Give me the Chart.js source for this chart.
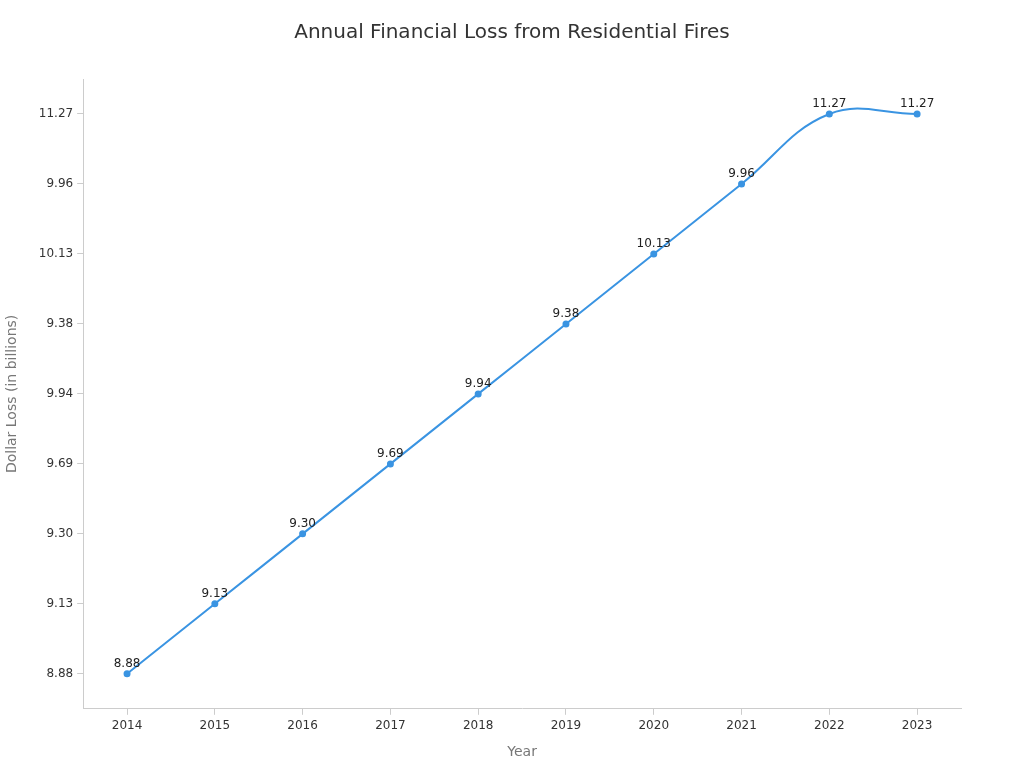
<!DOCTYPE html>
<html>
<head>
<meta charset="utf-8">
<script src="https://cdn.jsdelivr.net/npm/chart.js@4"></script>
<style>
    html, body { margin: 0; padding: 0; background: #fff; }
    #wrap { width: 1024px; height: 768px; }
</style>
</head>
<body>
<div id="wrap"><canvas id="chart"></canvas></div>
<script>
    // data
    var years = ["2014", "2015", "2016", "2017", "2018", "2019", "2020", "2021", "2022", "2023"];
    var loss = ["8.88", "9.13", "9.30", "9.69", "9.94", "9.38", "10.13", "9.96", "11.27", "11.27"];
    // y axis is categorical, labels in the order they appear
    var yLabels = ["8.88", "9.13", "9.30", "9.69", "9.94", "9.38", "10.13", "9.96", "11.27"];
    var chartTitle = "Annual Financial Loss from Residential Fires";

    Chart.defaults.font.family = "'DejaVu Sans', sans-serif";
    Chart.defaults.color = "#333";

    // title centred on the whole canvas
    var pageTitle = {
        id: "pageTitle",
        afterDraw: function (chart) {
            var ctx = chart.ctx;
            ctx.save();
            ctx.font = "20px 'DejaVu Sans', sans-serif";
            ctx.fillStyle = "#333";
            ctx.textAlign = "center";
            ctx.textBaseline = "middle";
            ctx.fillText(chartTitle, chart.width / 2, 33);
            ctx.restore();
        }
    };

    // point labels above each point
    var pointLabels = {
        id: "pointLabels",
        afterDatasetsDraw: function (chart) {
            var ctx = chart.ctx;
            var meta = chart.getDatasetMeta(0);
            ctx.save();
            ctx.font = "12px 'DejaVu Sans', sans-serif";
            ctx.fillStyle = "#222";
            ctx.textAlign = "center";
            ctx.textBaseline = "bottom";
            meta.data.forEach(function (pt, i) {
                ctx.fillText(loss[i], pt.x, pt.y - 4);
            });
            ctx.restore();
        }
    };

    var ctx = document.getElementById("chart").getContext("2d");
    var myChart = new Chart(ctx, {
        type: "line",
        data: {
            labels: years,
            datasets: [
                {
                    label: "Dollar Loss",
                    data: loss,
                    borderColor: "#3a94e2",
                    backgroundColor: "#3a94e2",
                    borderWidth: 2,
                    pointRadius: 2.5,
                    tension: 0.4,
                    fill: false,
                },
            ],
        },
        options: {
            responsive: true,
            maintainAspectRatio: false,
            animation: false,
            layout: { padding: { left: 0, right: 63, top: 79, bottom: 3 } },
            plugins: {
                legend: { display: false },
                tooltip: { enabled: false },
                title: { display: false },
            },
            scales: {
                x: {
                    offset: true,
                    grid: { drawOnChartArea: false, tickLength: 6, color: "#ccc" },
                    border: { color: "#ccc" },
                    ticks: { font: { size: 12 }, color: "#333", padding: 4 },
                    title: {
                        display: true,
                        text: "Year",
                        color: "#777",
                        font: { size: 14 },
                        padding: { top: 7 },
                    },
                },
                y: {
                    type: "category",
                    labels: yLabels,
                    reverse: true,
                    offset: true,
                    grid: { drawOnChartArea: false, tickLength: 6, color: "#ccc" },
                    border: { color: "#ccc" },
                    ticks: { font: { size: 12 }, color: "#333", padding: 4 },
                    title: {
                        display: true,
                        text: "Dollar Loss (in billions)",
                        color: "#777",
                        font: { size: 14 },
                        padding: { bottom: 14 },
                    },
                },
            },
        },
        plugins: [pageTitle, pointLabels],
    });
</script>
</body>
</html>
